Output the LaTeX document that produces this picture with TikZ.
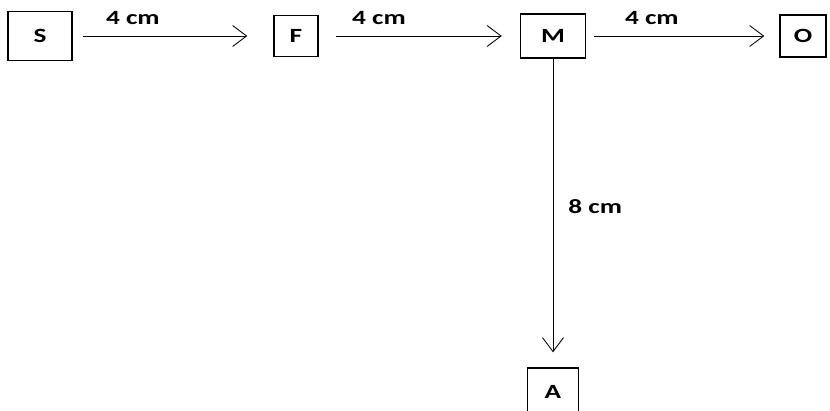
\documentclass[tikz,border=0pt]{standalone}
\usepackage{fontspec}
\setmainfont{Carlito}[FakeStretch=1.35]
\usetikzlibrary{arrows.meta}

\begin{document}
\begin{tikzpicture}[x=0.02cm,y=-0.02cm,
    every node/.style={font=\fontsize{11.5}{13}\selectfont\bfseries},
    box/.style={draw,line width=0.8pt,inner sep=0pt},
    len/.style={inner sep=0pt},
    arr/.style={-{Straight Barb[length=0.28cm,width=0.42cm]},line width=0.5pt}]
    \useasboundingbox (0,0) rectangle (830,410);

	\node[box,minimum width=1.28cm,minimum height=0.98cm] (s) at (40,36) {S};
	\node[box,minimum width=0.88cm,minimum height=0.82cm] (f) at (296,36) {F};
	\node[box,minimum width=1.3cm,minimum height=0.88cm] (m) at (553,36) {M};
	\node[box,minimum width=0.92cm,minimum height=0.84cm] (o) at (803,36) {O};
	\node[box,minimum width=1.02cm,minimum height=0.96cm] (a) at (553,392) {A};

  \draw[arr,shorten <=0.2cm,shorten >=0.52cm] (s) -- node[len,above=0.22cm,pos=0.3] {4 cm} (f);
  \draw[arr,shorten <=0.34cm,shorten >=0.36cm] (f) -- node[len,above=0.22cm,pos=0.3] {4 cm} (m);
  \draw[arr,shorten <=0.16cm,shorten >=0.3cm] (m) -- node[len,above=0.22cm,pos=0.34] {4 cm} (o);
  \draw[arr,shorten >=0.3cm] (m) -- node[len,right=0.3cm,pos=0.48] {8 cm} (a);
\end{tikzpicture}
\end{document}
